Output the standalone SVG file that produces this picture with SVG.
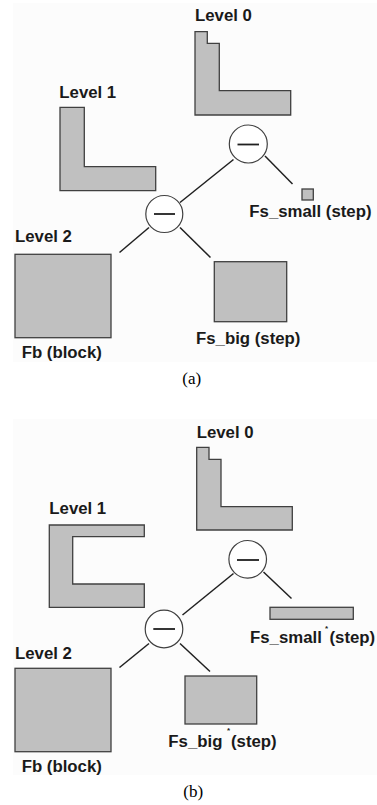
<svg xmlns="http://www.w3.org/2000/svg" width="377" height="805" viewBox="0 0 377 805">
  <style>
    .panel { fill: #fcfcfc; }
    .shape { fill: #c0c0c0; stroke: #404040; stroke-width: 1.3; }
    .op circle { fill: #ffffff; stroke: #404040; stroke-width: 1.2; }
    .op line { stroke: #202020; stroke-width: 1.8; }
    .edge { stroke: #202020; stroke-width: 1.5; fill: none; }
    .lbl { font-family: "Liberation Sans", Arial, sans-serif; font-weight: bold; font-size: 16.8px; fill: #1a1a1a; }
    .sup { font-family: "Liberation Sans", Arial, sans-serif; font-weight: bold; font-size: 8px; fill: #1a1a1a; }
    .cap { font-family: "Liberation Serif", "Times New Roman", serif; font-size: 17px; fill: #000; }
  </style>
  <rect width="377" height="805" fill="#ffffff"/>

  <!-- panel (a) -->
  <rect class="panel" x="13" y="3" width="364" height="359"/>
  <g id="a-connectors">
    <line class="edge" x1="233.5" y1="159.5" x2="180" y2="202.5"/>
    <line class="edge" x1="265" y1="156" x2="292.5" y2="184"/>
    <line class="edge" x1="149" y1="227.5" x2="119.5" y2="252.5"/>
    <line class="edge" x1="180" y1="227.5" x2="210.5" y2="257.5"/>
  </g>
  <g id="a-level0">
    <text class="lbl" x="195" y="21">Level 0</text>
    <path class="shape" d="M195,31.7 H207.3 V43.3 H219.3 V90.7 H290.7 V115 H195 Z"/>
  </g>
  <g id="a-level1">
    <text class="lbl" x="59.3" y="98">Level 1</text>
    <path class="shape" d="M60,107.3 H84.3 V166.7 H155.7 V190.7 H60 Z"/>
  </g>
  <g id="a-op0" class="op">
    <circle cx="248.3" cy="144" r="19"/>
    <line x1="237.5" y1="144.5" x2="259" y2="144.5"/>
  </g>
  <g id="a-op1" class="op">
    <circle cx="164.3" cy="214" r="18.5"/>
    <line x1="154" y1="214" x2="175" y2="214"/>
  </g>
  <g id="a-fs-small">
    <rect class="shape" x="302" y="189" width="11.3" height="11"/>
    <text class="lbl" x="249.3" y="217.3">Fs_small (step)</text>
  </g>
  <g id="a-level2">
    <text class="lbl" x="15" y="242.3">Level 2</text>
    <rect class="shape" x="15" y="254.3" width="96" height="83.4"/>
    <text class="lbl" x="21.7" y="358.3">Fb (block)</text>
  </g>
  <g id="a-fs-big">
    <rect class="shape" x="214.3" y="261.7" width="72.4" height="60"/>
    <text class="lbl" x="196" y="344">Fs_big (step)</text>
  </g>
  <text class="cap" x="182.3" y="384">(a)</text>

  <!-- panel (b) -->
  <rect class="panel" x="13" y="419" width="364" height="356"/>
  <g id="b-connectors">
    <line class="edge" x1="233.5" y1="573.5" x2="182.5" y2="615"/>
    <line class="edge" x1="263.5" y1="572" x2="291.5" y2="598.5"/>
    <line class="edge" x1="149" y1="643.5" x2="119.5" y2="667.5"/>
    <line class="edge" x1="180" y1="643.5" x2="210" y2="671.5"/>
  </g>
  <g id="b-level0">
    <text class="lbl" x="196.7" y="437.7">Level 0</text>
    <path class="shape" d="M196.7,447.3 H209 V459.3 H221 V506.7 H292.3 V530 H196.7 Z"/>
  </g>
  <g id="b-level1">
    <text class="lbl" x="49.3" y="514.3">Level 1</text>
    <path class="shape" d="M49.3,525 H144.3 V536.7 H72.7 V584 H144.3 V607.3 H49.3 Z"/>
  </g>
  <g id="b-op0" class="op">
    <circle cx="247.7" cy="559.3" r="18.8"/>
    <line x1="237" y1="560" x2="259" y2="560"/>
  </g>
  <g id="b-op1" class="op">
    <circle cx="164" cy="629" r="18.8"/>
    <line x1="153.3" y1="629" x2="175" y2="629"/>
  </g>
  <g id="b-fs-small">
    <rect class="shape" x="270" y="607.3" width="83.3" height="12"/>
    <text class="lbl" x="250" y="643.3">Fs_small</text>
    <text class="sup" x="325" y="631">*</text>
    <text class="lbl" x="329.5" y="643.3">(step)</text>
  </g>
  <g id="b-level2">
    <text class="lbl" x="15" y="659.3">Level 2</text>
    <rect class="shape" x="15" y="668.3" width="96" height="83.4"/>
    <text class="lbl" x="21.7" y="771.7">Fb (block)</text>
  </g>
  <g id="b-fs-big">
    <rect class="shape" x="185" y="676" width="71.7" height="48"/>
    <text class="lbl" x="168.3" y="746.7">Fs_big</text>
    <text class="sup" x="227" y="732.5">*</text>
    <text class="lbl" x="231" y="746.7">(step)</text>
  </g>
  <text class="cap" x="183.3" y="796.7">(b)</text>
</svg>
